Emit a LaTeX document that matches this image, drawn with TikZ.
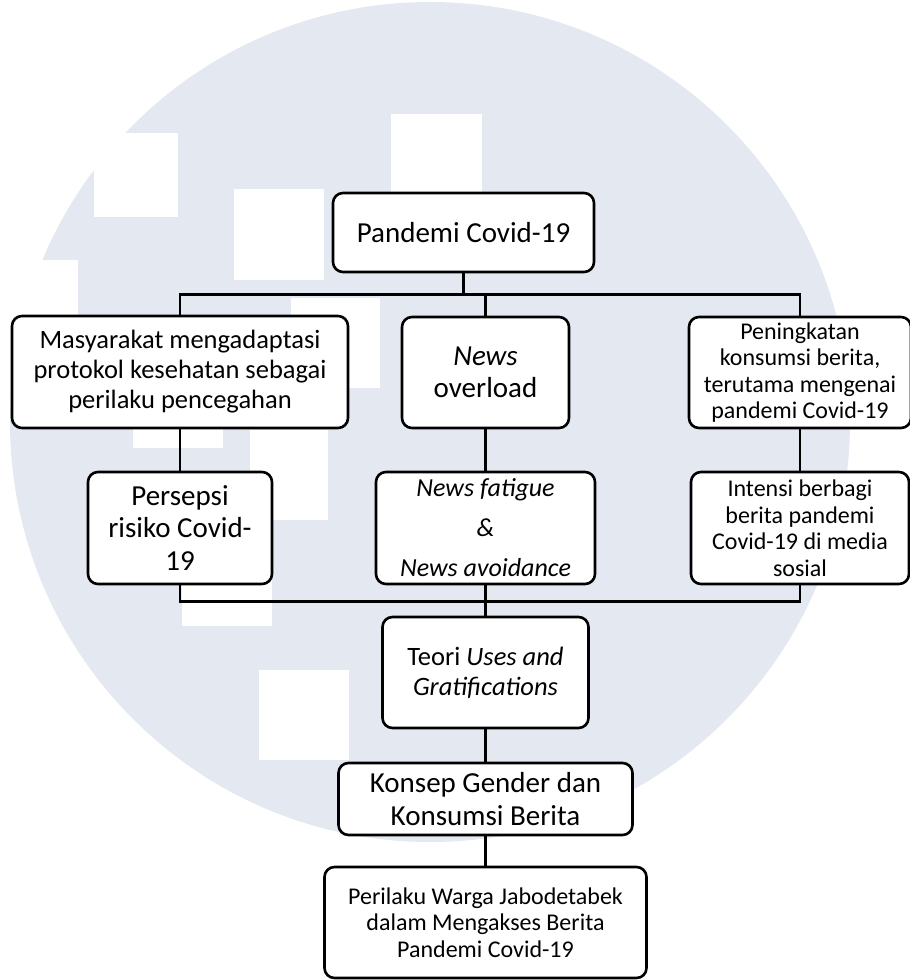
\documentclass[tikz,border=0pt]{standalone}
\usepackage{fontspec}
\setmainfont{Carlito}
\definecolor{logogray}{RGB}{228,232,240}

\begin{document}
\begin{tikzpicture}[x=1pt, y=-1pt,
    box/.style={draw, rounded corners=10pt, line width=2.6pt, fill=white, align=center, inner sep=0pt},
    link/.style={line width=2.6pt},
    bigtext/.style={font=\fontsize{29}{32.5}\selectfont},
    midtext/.style={font=\fontsize{26.5}{30}\selectfont},
    smalltext/.style={font=\fontsize{24}{26.5}\selectfont},
    patch/.style={fill=white, draw=none}]

    % Background logo
    \useasboundingbox (0,0) rectangle (910,980);
    \fill[logogray] (430,422) circle[radius=420];
    \fill[patch] (94,133) rectangle (178,217);
    \fill[patch] (391,114) rectangle (482,204);
    \fill[patch] (234,189) rectangle (324,280);
    \fill[patch] (291,298) rectangle (380,388);
    \fill[patch] (-12,260) rectangle (78,350);
    \fill[patch] (133,358) rectangle (223,448);
    \fill[patch] (250,430) rectangle (328,520);
    \fill[patch] (182,536) rectangle (272,626);
    \fill[patch] (259,670) rectangle (349,760);

    % Draw nodes
    \node[box, bigtext, minimum width=261pt, minimum height=79pt] (pandemi) at (463.5,232.5) {Pandemi Covid-19};
    \node[box, midtext, minimum width=336pt, minimum height=112pt] (masy) at (180,372) {Masyarakat mengadaptasi\\protokol kesehatan sebagai\\perilaku pencegahan};
    \node[box, bigtext, minimum width=167pt, minimum height=111pt] (overload) at (485.5,372.5) {\textit{News}\\overload};
    \node[box, smalltext, minimum width=222pt, minimum height=111pt] (pening) at (800,372.5) {Peningkatan\\konsumsi berita,\\terutama mengenai\\pandemi Covid-19};
    \node[box, bigtext, minimum width=184pt, minimum height=112pt] (persepsi) at (180,528) {Persepsi\\risiko Covid-\\19};
    \node[box, font=\fontsize{26}{40}\selectfont, minimum width=219pt, minimum height=112pt] (fatigue) at (485.5,528) {\textit{News fatigue}\\\textit{\&}\\\textit{News avoidance}};
    \node[box, smalltext, minimum width=218pt, minimum height=112pt] (intensi) at (800,528) {Intensi berbagi\\berita pandemi\\Covid-19 di media\\sosial};
    \node[box, midtext, minimum width=206pt, minimum height=111pt] (teori) at (485.5,672.5) {Teori \textit{Uses and}\\\textit{Gratifications}};
    \node[box, bigtext, minimum width=294pt, minimum height=72pt] (konsep) at (485.5,799) {Konsep Gender dan\\Konsumsi Berita};
    \node[box, smalltext, minimum width=322pt, minimum height=111pt] (perilaku) at (485.5,922.5) {Perilaku Warga Jabodetabek\\dalam Mengakses Berita\\Pandemi Covid-19};

    % Draw connections
    \draw[link] (pandemi.south) -- ++(0,21) -| (masy.north);
    \draw[link] (pandemi.south) -- ++(0,21) -| (overload.north);
    \draw[link] (pandemi.south) -- ++(0,21) -| (pening.north);
    \draw[link] (masy) -- (persepsi);
    \draw[link] (overload) -- (fatigue);
    \draw[link] (pening) -- (intensi);
    \draw[link] (persepsi.south) -- ++(0,16) -| (intensi.south);
    \draw[link] (fatigue) -- (teori);
    \draw[link] (teori) -- (konsep);
    \draw[link] (konsep) -- (perilaku);
\end{tikzpicture}
\end{document}
